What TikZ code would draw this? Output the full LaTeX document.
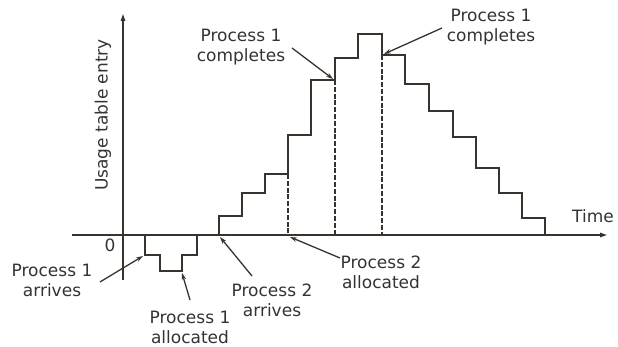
\documentclass[tikz,border=0pt]{standalone}
\usepackage{fontspec}
\setmainfont{DejaVu Sans}
\usetikzlibrary{arrows.meta}
\definecolor{ink}{HTML}{3A322C}
\definecolor{txt}{HTML}{333333}
\begin{document}
\begin{tikzpicture}[x=1pt,y=-1pt,
  axis/.style={draw=ink,line width=1.3pt,-{Triangle[length=7pt,width=4.5pt]}},
  curve/.style={draw=ink,line width=2.6pt,line join=miter},
  guide/.style={draw=ink,line width=1.3pt,dash pattern=on 5pt off 1.8pt},
  pointer/.style={draw=ink,line width=1.3pt,-{Stealth[length=7pt,width=4.5pt]}},
  lbl/.style={text=txt,font=\fontsize{17}{20}\selectfont,align=center,inner sep=0pt}]
\useasboundingbox (0,0) rectangle (618,347);

% axes
\coordinate (xs) at (72,235);
\coordinate (xe) at (607,235);
\coordinate (ys) at (123,280);
\coordinate (ye) at (123,14);
\draw[axis] (xs) -- (xe);
\draw[axis] (ys) -- (ye);
\node[lbl,rotate=90] (ylab) at (103,115) {Usage table entry};
\node[lbl] (zero) at (110,245) {0};
\node[lbl] (tlab) at (593,216) {Time};

% dashed guides
\draw[guide] (288,174) -- (288,235);
\draw[guide] (335,80) -- (335,235);
\draw[guide] (382,55) -- (382,235);

% usage staircase
\draw[curve] (145,235) -- (145,255) -- (160,255) -- (160,271) -- (182,271)
  -- (182,255) -- (197,255) -- (197,235) -- (219,235) -- (219,216)
  -- (242,216) -- (242,193) -- (265,193) -- (265,174) -- (288,174)
  -- (288,135) -- (311,135) -- (311,80) -- (335,80) -- (335,58)
  -- (358,58) -- (358,34) -- (382,34) -- (382,55) -- (405,55)
  -- (405,84) -- (429,84) -- (429,111) -- (453,111) -- (453,137)
  -- (476,137) -- (476,168) -- (499,168) -- (499,193) -- (522,193)
  -- (522,218) -- (545,218) -- (545,235);

% event points on the staircase
\coordinate (p1arr) at (143,256);
\coordinate (p1all) at (182,273);
\coordinate (p2arr) at (220,237);
\coordinate (p2all) at (290,237);
\coordinate (p1cmpA) at (333,79);
\coordinate (p1cmpB) at (384,54);

% labels
\node[lbl] (l1) at (52,280) {Process 1\\arrives};
\node[lbl] (l2) at (190,327) {Process 1\\allocated};
\node[lbl] (l3) at (272,300) {Process 2\\arrives};
\node[lbl] (l4) at (381,272) {Process 2\\allocated};
\node[lbl] (l5) at (241,47) {Process 1\\completes};
\node[lbl] (l6) at (491,27) {Process 1\\completes};

% pointer tails
\coordinate (t1) at (100,282);
\coordinate (t2) at (190,300);
\coordinate (t3) at (252,276);
\coordinate (t4) at (340,258);
\coordinate (t5) at (292,48);
\coordinate (t6) at (442,28);

\draw[pointer] (t1) -- (p1arr);
\draw[pointer] (t2) -- (p1all);
\draw[pointer] (t3) -- (p2arr);
\draw[pointer] (t4) -- (p2all);
\draw[pointer] (t5) -- (p1cmpA);
\draw[pointer] (t6) -- (p1cmpB);
\end{tikzpicture}
\end{document}
